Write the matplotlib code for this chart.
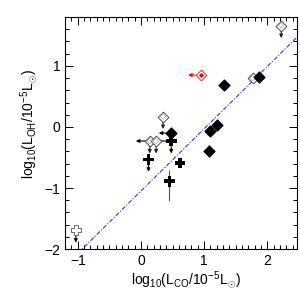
import matplotlib
matplotlib.use("Agg")
import matplotlib.pyplot as plt
import numpy as np
from matplotlib.ticker import MultipleLocator
from matplotlib.transforms import offset_copy

plt.rcParams['font.family'] = ['Liberation Sans', 'DejaVu Sans']
plt.rcParams['mathtext.fontset'] = 'custom'
plt.rcParams['mathtext.rm'] = 'Liberation Sans'
plt.rcParams['mathtext.it'] = 'Liberation Sans'

# filled diamonds (detections)
det_x = [1.31, 1.87, 1.20, 1.09, 1.08, 0.48]
det_y = [0.68, 0.82, 0.03, -0.06, -0.40, -0.10]
# filled crosses
crs_x = [0.48, 0.12, 0.62, 0.45]
crs_y = [-0.23, -0.53, -0.59, -0.89]
crs_err_lo = [0, 0, 0, 0.33]
crs_err_hi = [0, 0, 0, 0.19]
# open grey diamonds (upper limits)
od_x = [0.35, 0.14, 0.24, 1.77, 2.22]
od_y = [0.17, -0.23, -0.23, 0.80, 1.66]
od_down = [True, True, True, False, True]
# red open diamond
red_x = [0.945]
red_y = [0.85]
# open grey cross
oc_x = [-1.03]
oc_y = [-1.69]
# fit line
fit_slope = 1.02
fit_icpt = -1.05

fig = plt.figure(figsize=(3.0, 2.99), dpi=100)
ax = fig.add_axes([0.217, 0.167, 0.773, 0.776])
ax.set_xlim(-1.2, 2.47)
ax.set_ylim(-2.0, 1.8)

xx = np.array([-1.2, 2.47])
ax.plot(xx, fit_slope * xx + fit_icpt, color='#3333ff', lw=0.8, ls=(0, (4, 1.5, 1, 1.5)), zorder=1)


def arrow_off(x, y, ox0, oy0, ox1, oy1, color='black'):
    t0 = offset_copy(ax.transData, fig=fig, x=ox0, y=oy0, units='points')
    t1 = offset_copy(ax.transData, fig=fig, x=ox1, y=oy1, units='points')
    p0 = t0.transform((x, y))
    p1 = t1.transform((x, y))
    ax.annotate('', xy=p1, xycoords='figure pixels', xytext=p0, textcoords='figure pixels',
                arrowprops=dict(arrowstyle='-|>', color=color, lw=0.8,
                                mutation_scale=5, shrinkA=0, shrinkB=0), zorder=2)

for x, y, d in zip(od_x, od_y, od_down):
    if d:
        arrow_off(x, y, 0, -4, 0, -9, '#222222')
arrow_off(crs_x[0], crs_y[0], 0, -4, 0, -9)
arrow_off(crs_x[1], crs_y[1], 0, -4, 0, -9)
arrow_off(oc_x[0], oc_y[0], 0, -4, 0, -9)
arrow_off(det_x[5], det_y[5], -4, 0, -9, 0)
arrow_off(red_x[0], red_y[0], -4, 0, -9, 0, 'red')
ax.annotate('', xy=(-0.08, crs_y[0]), xytext=(crs_x[0], crs_y[0]),
            arrowprops=dict(arrowstyle='-|>', color='black', lw=0.8,
                            mutation_scale=5, shrinkA=0, shrinkB=0), zorder=2)

ax.errorbar(crs_x, crs_y, yerr=[crs_err_lo, crs_err_hi], fmt='none', ecolor='#555555', elinewidth=0.8, capsize=0, zorder=2)
ax.errorbar([det_x[4]], [det_y[4]], yerr=[[0.1], [0.1]], fmt='none', ecolor='#555555', elinewidth=0.8, capsize=0, zorder=2)

ax.scatter(det_x, det_y, marker='D', s=30, color='black', zorder=4)
ax.scatter(crs_x, crs_y, marker='P', s=60, color='black', edgecolors='none', zorder=4)
ax.scatter(od_x, od_y, marker='D', s=30, facecolor='white', edgecolor='#333333', linewidths=0.6, zorder=3)
ax.scatter(od_x, od_y, marker='D', s=8, facecolor='none', edgecolor='#999999', linewidths=0.4, zorder=3)
ax.scatter(red_x, red_y, marker='D', s=30, facecolor='white', edgecolor='red', linewidths=0.6, zorder=3)
ax.scatter(red_x, red_y, marker='D', s=3, color='red', zorder=3)
ax.scatter(oc_x, oc_y, marker='P', s=55, facecolor='white', edgecolor='#555555', linewidths=0.6, zorder=3)

ax.xaxis.set_major_locator(MultipleLocator(1))
ax.xaxis.set_minor_locator(MultipleLocator(0.1))
ax.yaxis.set_major_locator(MultipleLocator(1))
ax.yaxis.set_minor_locator(MultipleLocator(0.2))
ax.tick_params(which='both', direction='in', top=True, right=True, labelsize=10, width=0.7)
ax.tick_params(which='major', length=6)
ax.tick_params(which='minor', length=3)
for s in ax.spines.values():
    s.set_linewidth(0.8)

ax.set_xlabel(r'log$_{10}$(L$_{\rm CO}$/10$^{-5}$L$_{\odot}$)', fontsize=10)
ax.set_ylabel(r'log$_{10}$(L$_{\rm OH}$/10$^{-5}$L$_{\odot}$)', fontsize=10)
ax.xaxis.set_label_coords(0.52, -0.086)
ax.yaxis.set_label_coords(-0.11, 0.54)

fig.savefig('out.png', dpi=100)
